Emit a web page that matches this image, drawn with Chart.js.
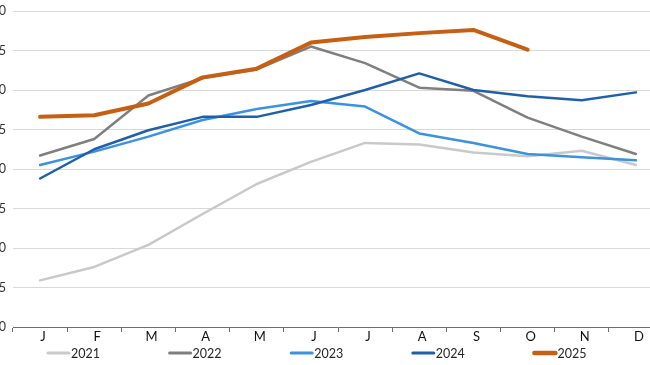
<!DOCTYPE html>
<html>
<head>
<meta charset="utf-8">
<script src="https://cdn.jsdelivr.net/npm/chart.js@4/dist/chart.umd.min.js"></script>
<style>
  body { margin: 0; overflow: hidden; background: #fff; }
  #wrap { position: relative; width: 650px; height: 365px; overflow: hidden; }
  #chart { position: absolute; left: -30px; top: 0; }
</style>
</head>
<body>
<div id="wrap"><canvas id="chart" width="700" height="365"></canvas></div>
<script>
// months on the x axis
const months = ['J', 'F', 'M', 'A', 'M', 'J', 'J', 'A', 'S', 'O', 'N', 'D'];

// one array per year
const y2021 = [5.9, 7.6, 10.4, 14.3, 18.1, 20.9, 23.3, 23.1, 22.1, 21.6, 22.3, 20.5];
const y2022 = [21.7, 23.8, 29.3, 31.5, 32.6, 35.5, 33.4, 30.3, 29.9, 26.5, 24.1, 21.9];
const y2023 = [20.5, 22.2, 24.1, 26.2, 27.6, 28.6, 27.9, 24.5, 23.3, 21.9, 21.5, 21.1];
const y2024 = [18.8, 22.5, 24.9, 26.6, 26.6, 28.1, 30.0, 32.1, 30.0, 29.2, 28.7, 29.7];
const y2025 = [26.6, 26.8, 28.3, 31.6, 32.7, 36.0, 36.7, 37.2, 37.6, 35.1, null, null];

const yMin = 0;
const yMax = 40;
const yStep = 5;

const FONT = 'Lato, "Open Sans", sans-serif';

function line(label, data, color, width, order) {
    return {
        label: label,
        data: data,
        borderColor: color,
        backgroundColor: color,
        borderWidth: width,
        pointRadius: 0,
        pointHoverRadius: 0,
        tension: 0,
        borderCapStyle: 'round',
        borderJoinStyle: 'round',
        spanGaps: false,
        order: order
    };
}

// legend drawn by hand so the wide spacing between items can be kept
const lineLegend = {
    id: 'lineLegend',
    afterDraw(chart) {
        const ctx = chart.ctx;
        const startX = 77;
        const step = 121.6;
        const y = 353;
        ctx.save();
        ctx.font = '12.5px ' + FONT;
        ctx.textBaseline = 'middle';
        ctx.textAlign = 'left';
        chart.data.datasets.forEach((ds, i) => {
            const x = startX + i * step;
            ctx.strokeStyle = ds.borderColor;
            ctx.lineWidth = ds.borderWidth > 3 ? 4.5 : 3;
            ctx.lineCap = 'round';
            ctx.beginPath();
            ctx.moveTo(x + 1, y);
            ctx.lineTo(x + 22, y);
            ctx.stroke();
            ctx.fillStyle = '#262626';
            ctx.fillText(ds.label, x + 24, y + 0.5);
        });
        ctx.restore();
    }
};

const ctx = document.getElementById('chart');

const myChart = new Chart(ctx, {
    type: 'line',
    data: {
        labels: months,
        datasets: [
            line('2021', y2021, '#c9c9c9', 2.5, 4),
            line('2022', y2022, '#7f7f7f', 2.5, 3),
            line('2023', y2023, '#3b93e0', 2.5, 2),
            line('2024', y2024, '#1f60ab', 2.5, 1),
            line('2025', y2025, '#c65f12', 4, 0)
        ]
    },
    options: {
        responsive: false,
        animation: false,
        layout: { padding: { top: 11, right: 7, bottom: 0, left: 0 } },
        plugins: {
            legend: { display: false },
            tooltip: { enabled: false }
        },
        scales: {
            x: {
                offset: true,
                grid: {
                    display: true,
                    drawOnChartArea: false,
                    drawTicks: true,
                    tickLength: 5,
                    offset: true,
                    color: '#6e6e6e'
                },
                border: { display: true, color: '#6e6e6e', width: 1 },
                ticks: {
                    color: '#111',
                    font: { family: FONT, size: 13, lineHeight: 1 },
                    padding: -2,
                    labelOffset: 3,
                    autoSkip: false,
                    maxRotation: 0
                },
                afterFit(scale) { scale.height = 38; }
            },
            y: {
                min: yMin,
                max: yMax,
                ticks: {
                    stepSize: yStep,
                    color: '#333',
                    font: { family: FONT, size: 12.5 },
                    padding: 7
                },
                grid: { color: '#d9d9d9', lineWidth: 1, drawTicks: false },
                border: { display: false },
                afterFit(scale) {
                    scale.width = 43;
                    scale.paddingTop = 0;
                    scale.paddingBottom = 0;
                }
            }
        }
    },
    plugins: [lineLegend]
});
</script>
</body>
</html>
